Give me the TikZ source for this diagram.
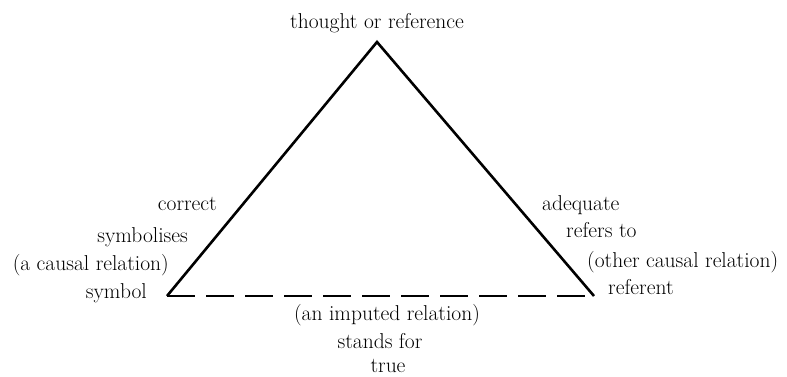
\documentclass[tikz,border=0pt]{standalone}
\usepackage{tikz}
\usetikzlibrary{positioning,calc}

\begin{document}
\begin{tikzpicture}[x=1pt, y=1pt, font=\fontsize{21.5}{26}\selectfont,
  side/.style={line width=2.6pt, line join=miter},
  imputed/.style={line width=2.6pt, dash pattern=on 28pt off 11pt},
  lab/.style={inner sep=0pt}]
\useasboundingbox (0,0) rectangle (787,376);
\coordinate (thought) at (377,334);
\coordinate (symbol) at (167,80);
\coordinate (referent) at (594,80);
\draw[side] (symbol) -- (thought) -- (referent);
\draw[imputed] (symbol) -- (referent);
\node[lab, anchor=base] (ttop) at (377,348) {thought or reference};
% left side
\foreach \n/\x/\y/\lab in {lc/217/166/correct, ls/188/134/symbolises,
  lr/169/106/(a causal relation), lsym/147/78/symbol}
  \node[lab, anchor=base east] (\n) at (\x,\y) {\lab};
% right side
\foreach \n/\x/\y/\lab in {ra/542/166/adequate, rr/566/139/refers to,
  ro/587/109/(other causal relation), rref/608/82/referent}
  \node[lab, anchor=base west] (\n) at (\x,\y) {\lab};
% bottom
\foreach \n/\x/\y/\lab in {bi/387/56/(an imputed relation),
  bs/380/28/stands for, bt/388/4/true}
  \node[lab, anchor=base] (\n) at (\x,\y) {\lab};
\end{tikzpicture}
\end{document}
